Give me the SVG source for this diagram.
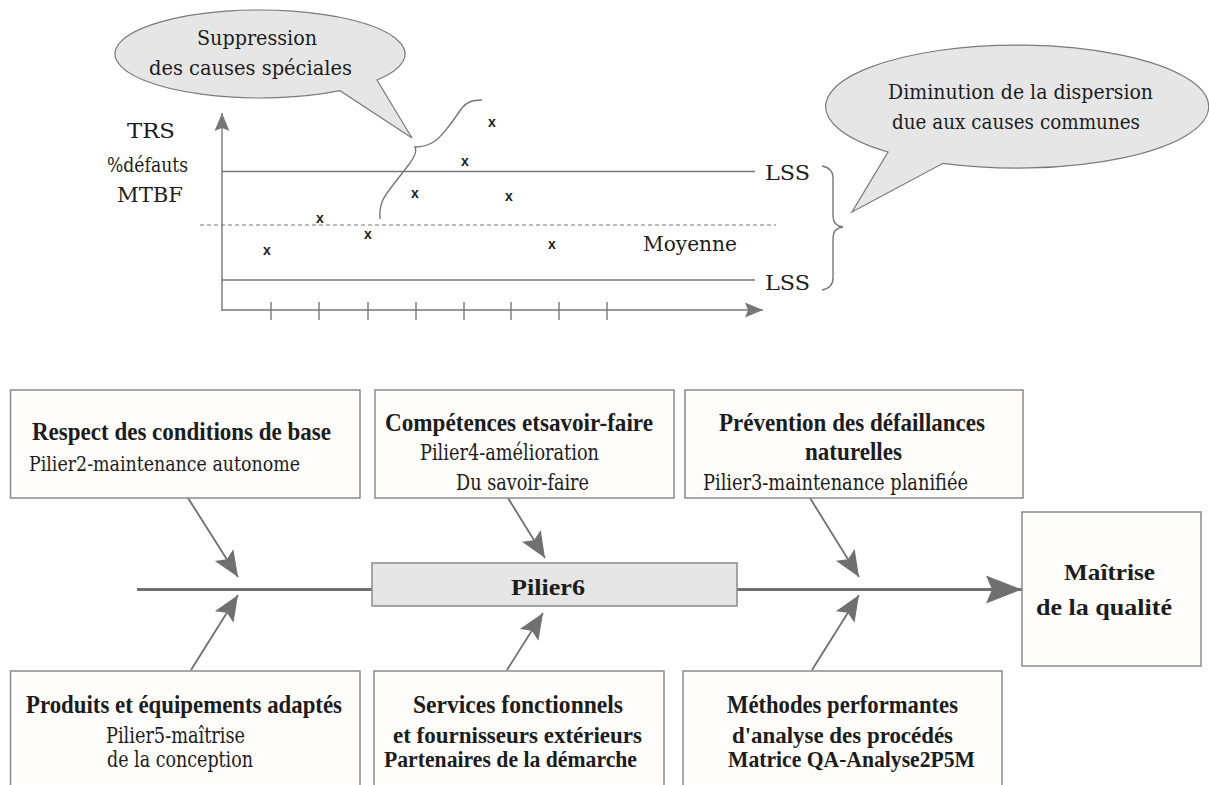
<svg xmlns="http://www.w3.org/2000/svg" width="1209" height="785" viewBox="0 0 1209 785">
<defs>
<style>
.t{font-family:"DejaVu Serif","Liberation Serif",serif;font-weight:normal;fill:#1c1c1c;font-size:20px}
.b{font-family:"Liberation Serif","Times New Roman",serif;font-weight:bold;font-size:25px}
.r{font-size:23px}
.s{font-size:22px}
.x{font-family:"Liberation Sans",Arial,sans-serif;font-weight:bold;font-size:14px;fill:#1c1c1c;text-anchor:middle}
.ln{stroke:#777;stroke-width:1.4;fill:none}
.box{fill:#fefdfb;stroke:#8a8a8a;stroke-width:1.5}
.bub{fill:#e6e6e6;stroke:#7a7a7a;stroke-width:1.2}
.arr{stroke:#707070;stroke-width:1.8;fill:none;marker-end:url(#ah)}
</style>
<marker id="ah" markerUnits="userSpaceOnUse" markerWidth="30" markerHeight="26" refX="27" refY="12" orient="auto" viewBox="0 0 30 26">
<path d="M27,12 L1,1 L6,12 L1,23 Z" fill="#707070"/>
</marker>
<marker id="ahBig" markerUnits="userSpaceOnUse" markerWidth="40" markerHeight="32" refX="38" refY="15" orient="auto" viewBox="0 0 40 32">
<path d="M38,15 L2,1 L8,15 L2,29 Z" fill="#707070"/>
</marker>
<marker id="ahS" markerUnits="userSpaceOnUse" markerWidth="20" markerHeight="16" refX="18" refY="8" orient="auto" viewBox="0 0 20 16">
<path d="M18,8 L0,0.5 L3,8 L0,15.5 Z" fill="#777"/>
</marker>
</defs>
<rect width="1209" height="785" fill="#ffffff"/>

<!-- Control chart -->
<g id="chart">
<line class="ln" x1="222" y1="311" x2="222" y2="113" marker-end="url(#ahS)"/>
<line class="ln" x1="222" y1="310" x2="763" y2="310" marker-end="url(#ahS)"/>
<g class="ln">
<line x1="271" y1="302" x2="271" y2="320"/>
<line x1="319" y1="302" x2="319" y2="320"/>
<line x1="368" y1="302" x2="368" y2="320"/>
<line x1="416" y1="302" x2="416" y2="320"/>
<line x1="464" y1="302" x2="464" y2="320"/>
<line x1="511" y1="302" x2="511" y2="320"/>
<line x1="559" y1="302" x2="559" y2="320"/>
<line x1="607" y1="302" x2="607" y2="320"/>
</g>
<line class="ln" x1="222" y1="171.5" x2="755" y2="171.5"/>
<line class="ln" x1="222" y1="280" x2="755" y2="280"/>
<line x1="200" y1="225" x2="776" y2="225" stroke="#777" stroke-width="1" stroke-dasharray="4,3"/>
<path class="ln" d="M822,166 Q833,168 833,178 L833,216 Q833,226 843,227 Q833,228 833,238 L833,278 Q833,288 822,290"/>
<path class="ln" d="M380,219 C379,205 383,198 390,189 L410,163 C415,156 417,150 415,147 C419,147 428,146 435,141 C443,135 450,125 462,108 C467,102 472,100 482,100"/>
<text class="x" x="267" y="255">x</text>
<text class="x" x="320" y="223">x</text>
<text class="x" x="368" y="239">x</text>
<text class="x" x="415" y="198">x</text>
<text class="x" x="465" y="166">x</text>
<text class="x" x="492" y="127">x</text>
<text class="x" x="509" y="201">x</text>
<text class="x" x="552" y="249">x</text>
<text class="t" x="127" y="138" textLength="48" lengthAdjust="spacingAndGlyphs">TRS</text>
<text class="t" x="107" y="172" textLength="81" lengthAdjust="spacingAndGlyphs">%défauts</text>
<text class="t" x="117" y="202" textLength="66" lengthAdjust="spacingAndGlyphs">MTBF</text>
<text class="t" x="765" y="180" textLength="45" lengthAdjust="spacingAndGlyphs" style="font-size:21px">LSS</text>
<text class="t" x="765" y="290" textLength="45" lengthAdjust="spacingAndGlyphs" style="font-size:21px">LSS</text>
<text class="t" x="643" y="251" textLength="94" lengthAdjust="spacingAndGlyphs" style="font-size:21px">Moyenne</text>
</g>

<g id="bubble-special">
<path class="bub" d="M377,80 A145,44 0 1 0 340,90.7 L412,138 Z"/>
<text class="t" x="197" y="45" textLength="120" lengthAdjust="spacingAndGlyphs">Suppression</text>
<text class="t" x="149" y="75" textLength="203" lengthAdjust="spacingAndGlyphs">des causes spéciales</text>
</g>

<g id="bubble-common">
<path class="bub" d="M888,152 A191.5,61.5 0 1 1 943,163.3 L852,212 Z"/>
<text class="t" x="888" y="99" textLength="265" lengthAdjust="spacingAndGlyphs">Diminution de la dispersion</text>
<text class="t" x="892" y="129" textLength="248" lengthAdjust="spacingAndGlyphs">due aux causes communes</text>
</g>

<!-- Connectors -->
<g id="connectors">
<line x1="137" y1="589.5" x2="372" y2="589.5" stroke="#707070" stroke-width="3"/>
<line x1="737" y1="589.5" x2="1022" y2="589.5" stroke="#707070" stroke-width="3" marker-end="url(#ahBig)"/>
<line class="arr" x1="188" y1="498" x2="238" y2="577"/>
<line class="arr" x1="508" y1="498" x2="545" y2="558"/>
<line class="arr" x1="810" y1="498" x2="859" y2="577"/>
<line class="arr" x1="191" y1="670" x2="238" y2="595"/>
<line class="arr" x1="507" y1="670" x2="543" y2="613"/>
<line class="arr" x1="812" y1="670" x2="859" y2="595"/>
</g>

<g id="box-respect">
<rect class="box" x="10.5" y="390" width="349.5" height="108"/>
<text class="t b" x="32" y="440" textLength="299" lengthAdjust="spacingAndGlyphs">Respect des conditions de base</text>
<text class="t" x="29" y="471" textLength="271" lengthAdjust="spacingAndGlyphs">Pilier2-maintenance autonome</text>
</g>

<g id="box-competences">
<rect class="box" x="375" y="390" width="299" height="108"/>
<text class="t b" x="385" y="431" textLength="268" lengthAdjust="spacingAndGlyphs">Compétences etsavoir-faire</text>
<text class="t r" x="420" y="460" textLength="179" lengthAdjust="spacingAndGlyphs">Pilier4-amélioration</text>
<text class="t r" x="456" y="490" textLength="133" lengthAdjust="spacingAndGlyphs">Du savoir-faire</text>
</g>

<g id="box-prevention">
<rect class="box" x="685" y="390" width="338" height="108"/>
<text class="t b" x="719" y="431" textLength="266" lengthAdjust="spacingAndGlyphs">Prévention des défaillances</text>
<text class="t b" x="805" y="460" textLength="97" lengthAdjust="spacingAndGlyphs">naturelles</text>
<text class="t r" x="703" y="490" textLength="265" lengthAdjust="spacingAndGlyphs">Pilier3-maintenance planifiée</text>
</g>

<g id="box-pilier6">
<rect x="372" y="563" width="365" height="43" fill="#e6e6e6" stroke="#8a8a8a" stroke-width="1.5"/>
<text class="t b" x="511" y="595" textLength="74" lengthAdjust="spacingAndGlyphs" style="font-size:23px">Pilier6</text>
</g>

<g id="box-maitrise">
<rect class="box" x="1022" y="512" width="179" height="154"/>
<text class="t b" x="1064" y="580" textLength="91" lengthAdjust="spacingAndGlyphs" style="font-size:23px">Maîtrise</text>
<text class="t b" x="1036" y="615" textLength="136" lengthAdjust="spacingAndGlyphs" style="font-size:23px">de la qualité</text>
</g>

<g id="box-produits">
<rect class="box" x="10.5" y="671" width="349.5" height="130"/>
<text class="t b" x="26" y="713" textLength="316" lengthAdjust="spacingAndGlyphs">Produits et équipements adaptés</text>
<text class="t s" x="106" y="743" textLength="139" lengthAdjust="spacingAndGlyphs">Pilier5-maîtrise</text>
<text class="t s" x="107" y="767" textLength="146" lengthAdjust="spacingAndGlyphs">de la conception</text>
</g>

<g id="box-services">
<rect class="box" x="374" y="671" width="290" height="130"/>
<text class="t b" x="413" y="713" textLength="210" lengthAdjust="spacingAndGlyphs">Services fonctionnels</text>
<text class="t b" x="393" y="743" textLength="249" lengthAdjust="spacingAndGlyphs" style="font-size:23px">et fournisseurs extérieurs</text>
<text class="t b" x="384" y="767" textLength="253" lengthAdjust="spacingAndGlyphs" style="font-size:23px">Partenaires de la démarche</text>
</g>

<g id="box-methodes">
<rect class="box" x="683" y="671" width="319" height="130"/>
<text class="t b" x="727" y="713" textLength="231" lengthAdjust="spacingAndGlyphs">Méthodes performantes</text>
<text class="t b" x="732" y="743" textLength="221" lengthAdjust="spacingAndGlyphs" style="font-size:23px">d'analyse des procédés</text>
<text class="t b" x="728" y="767" textLength="247" lengthAdjust="spacingAndGlyphs" style="font-size:23px">Matrice QA-Analyse2P5M</text>
</g>
</svg>
